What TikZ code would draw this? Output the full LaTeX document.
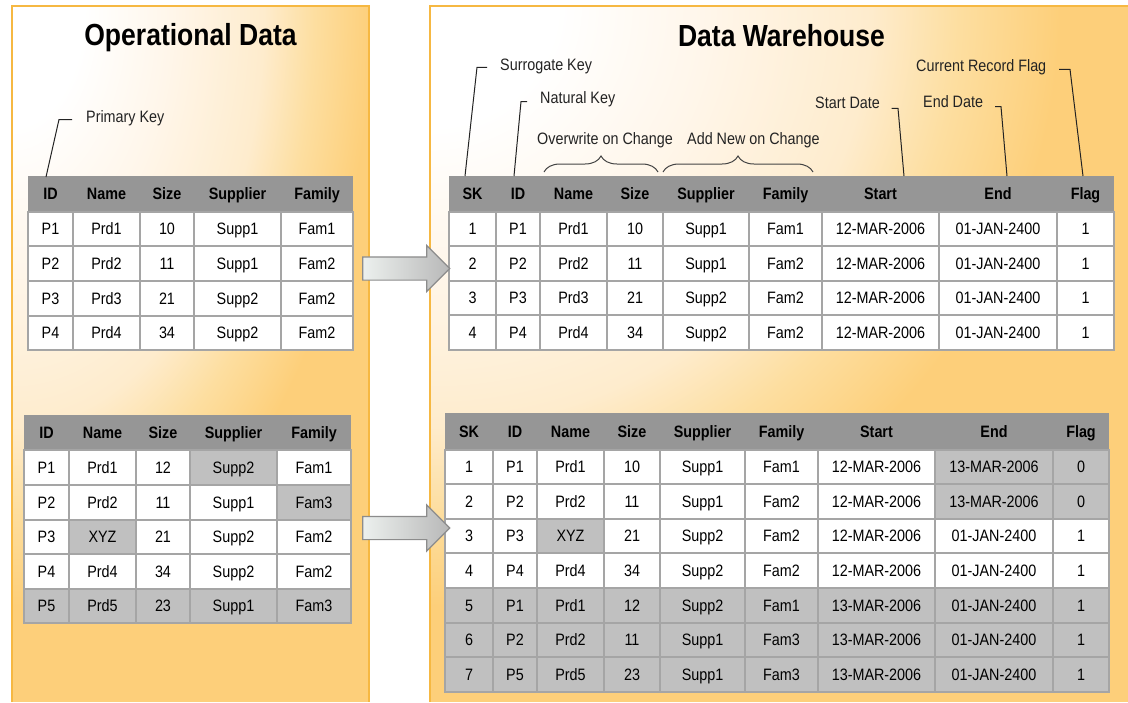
\documentclass[tikz,border=0pt]{standalone}
\usepackage{fontspec}
\setmainfont{Liberation Sans}[FakeStretch=0.87]
\usetikzlibrary{shapes.arrows,decorations.pathreplacing}

\definecolor{panelline}{RGB}{246,184,66}
\definecolor{panelorange}{RGB}{253,207,122}
\definecolor{hdrgray}{RGB}{150,150,150}
\definecolor{cellgray}{RGB}{192,192,192}
\definecolor{gridgray}{RGB}{165,165,165}
\definecolor{arrowlight}{RGB}{236,240,238}
\definecolor{arrowdark}{RGB}{184,184,184}
\definecolor{arrowline}{RGB}{140,140,140}
\definecolor{labeltext}{RGB}{35,35,35}

\pgfdeclareradialshading{glow}{\pgfpoint{0bp}{0bp}}{rgb(0bp)=(1,1,1); rgb(5bp)=(1,1,1); rgb(11bp)=(1,0.965,0.918); rgb(17.5bp)=(0.996,0.925,0.804); rgb(21bp)=(0.992,0.871,0.627); rgb(25bp)=(0.992,0.812,0.478); rgb(50bp)=(0.992,0.812,0.478)}

\newcommand\markgray[2]{\foreach \gcell in {#2}{\expandafter\xdef\csname gc:#1:\gcell\endcsname{1}}}
\newcommand\drawtable[4]{%
  \foreach \rowtxt [count=\rowi from 0] in {#4}{%
    \foreach \celltxt [count=\coli] in \rowtxt {%
      \pgfmathsetmacro\xa{{#2}[\coli-1]}%
      \pgfmathsetmacro\xb{{#2}[\coli]}%
      \pgfmathsetmacro\ya{{#3}[\rowi]}%
      \pgfmathsetmacro\yb{{#3}[\rowi+1]}%
      \ifnum\rowi=0\relax
        \path[fill=hdrgray] (\xa,\ya) rectangle (\xb,\yb);
        \node[hdrtext] (#1-\rowi-\coli) at ({(\xa+\xb)/2},{(\ya+\yb)/2}) {\celltxt};
      \else
        \ifcsname gc:#1:\rowi-\coli\endcsname\def\cellfill{cellgray}\else\def\cellfill{white}\fi
        \path[fill=\cellfill, draw=gridgray, line width=1.5pt] (\xa,\ya) rectangle (\xb,\yb);
        \node[celltext] (#1-\rowi-\coli) at ({(\xa+\xb)/2},{(\ya+\yb)/2}) {\celltxt};
      \fi
    }%
  }%
}

\begin{document}
\begin{tikzpicture}[x=1pt,y=-1pt,
  celltext/.style={inner sep=0pt, text height=11.8pt, text depth=0pt, font=\fontsize{16.5}{18}\selectfont},
  hdrtext/.style={inner sep=0pt, text height=11.8pt, text depth=0pt, font=\fontsize{16.5}{18}\selectfont\bfseries},
  lbl/.style={anchor=west, inner sep=0pt, text height=11.8pt, text depth=0pt, font=\fontsize{16.5}{18}\selectfont, text=labeltext},
  ttl/.style={inner sep=0pt, text height=21.8pt, text depth=0pt, font=\fontsize{30.5}{34}\selectfont\bfseries},
  leader/.style={draw=labeltext, line width=1pt},
  bracestyle/.style={draw=labeltext!85, line width=1pt, decorate, decoration={brace, amplitude=16pt, aspect=0.5}},
  bigarrow/.style={single arrow, single arrow head extend=11.5pt, inner sep=11pt, minimum height=87pt, left color=arrowlight, right color=arrowdark, draw=arrowline, line width=1.2pt},
  panelborder/.style={draw=panelline, line width=1.5pt}
]
\useasboundingbox (0,0) rectangle (1128,702);
\fill[white] (0,0) rectangle (1128,702);

% panels
\fill[panelorange] (12,6) rectangle (369,702);
\fill[panelorange] (430,6) rectangle (1128,702);
\begin{scope}
  \clip (12,6) rectangle (369,702);
  \shade[shading=glow] (12,6) ellipse (360 and 600);
\end{scope}
\begin{scope}
  \clip (430,6) rectangle (1128,702);
  \shade[shading=glow] (430,6) ellipse (630 and 600);
\end{scope}
\draw[panelborder] (12,702) -- (12,6) -- (369,6) -- (369,702);
\draw[panelborder] (430,702) -- (430,6) -- (1128,6);

% titles
\node[ttl] (tOD) at (190.5,34.5) {Operational Data};
\node[ttl] (tDW) at (781.5,35.5) {Data Warehouse};

% tables
\markgray{od2}{1-4,2-5,3-2,5-1,5-2,5-3,5-4,5-5}
\markgray{dw2}{1-8,1-9,2-8,2-9,3-3,5-1,5-2,5-3,5-4,5-5,5-6,5-7,5-8,5-9,6-1,6-2,6-3,6-4,6-5,6-6,6-7,6-8,6-9,7-1,7-2,7-3,7-4,7-5,7-6,7-7,7-8,7-9}

\drawtable{od1}{28,73,140,194,281,353}{176,212,246,281,316,350}{%
  {ID,Name,Size,Supplier,Family},
  {P1,Prd1,10,Supp1,Fam1},
  {P2,Prd2,11,Supp1,Fam2},
  {P3,Prd3,21,Supp2,Fam2},
  {P4,Prd4,34,Supp2,Fam2}}

\drawtable{od2}{24,69,136,190,277,351}{415,450,485,520,554,589,623}{%
  {ID,Name,Size,Supplier,Family},
  {P1,Prd1,12,Supp2,Fam1},
  {P2,Prd2,11,Supp1,Fam3},
  {P3,XYZ,21,Supp2,Fam2},
  {P4,Prd4,34,Supp2,Fam2},
  {P5,Prd5,23,Supp1,Fam3}}

\drawtable{dw1}{449,496,540,607,663,749,822,939,1057,1114}{176,212,246,281,315,350}{%
  {SK,ID,Name,Size,Supplier,Family,Start,End,Flag},
  {1,P1,Prd1,10,Supp1,Fam1,12-MAR-2006,01-JAN-2400,1},
  {2,P2,Prd2,11,Supp1,Fam2,12-MAR-2006,01-JAN-2400,1},
  {3,P3,Prd3,21,Supp2,Fam2,12-MAR-2006,01-JAN-2400,1},
  {4,P4,Prd4,34,Supp2,Fam2,12-MAR-2006,01-JAN-2400,1}}

\drawtable{dw2}{445,493,537,604,660,745,818,935,1053,1109}{413,450,484,519,553,588,623,657,692}{%
  {SK,ID,Name,Size,Supplier,Family,Start,End,Flag},
  {1,P1,Prd1,10,Supp1,Fam1,12-MAR-2006,13-MAR-2006,0},
  {2,P2,Prd2,11,Supp1,Fam2,12-MAR-2006,13-MAR-2006,0},
  {3,P3,XYZ,21,Supp2,Fam2,12-MAR-2006,01-JAN-2400,1},
  {4,P4,Prd4,34,Supp2,Fam2,12-MAR-2006,01-JAN-2400,1},
  {5,P1,Prd1,12,Supp2,Fam1,13-MAR-2006,01-JAN-2400,1},
  {6,P2,Prd2,11,Supp1,Fam3,13-MAR-2006,01-JAN-2400,1},
  {7,P5,Prd5,23,Supp1,Fam3,13-MAR-2006,01-JAN-2400,1}}

% labels
\node[lbl] (lPK) at (86,116.5) {Primary Key};
\node[lbl] (lSK) at (500,64.5) {Surrogate Key};
\node[lbl] (lNK) at (540,98) {Natural Key};
\node[lbl] (lOW) at (537,139) {Overwrite on Change};
\node[lbl] (lAN) at (687,139) {Add New on Change};
\node[lbl] (lSD) at (815,103) {Start Date};
\node[lbl] (lED) at (923,102) {End Date};
\node[lbl] (lCF) at (916,66) {Current Record Flag};

% leader lines
\coordinate (pkA) at (72,119.5);   \coordinate (pkB) at (59,119.5);   \coordinate (pkC) at (46,177);
\coordinate (skA) at (487,67.3);   \coordinate (skB) at (477,67.3);   \coordinate (skC) at (465,176);
\coordinate (nkA) at (527,101.7);  \coordinate (nkB) at (521,101.7);  \coordinate (nkC) at (514,176);
\coordinate (sdA) at (891.7,108.3);\coordinate (sdB) at (898,108.3);  \coordinate (sdC) at (904,176);
\coordinate (edA) at (995,106.7);  \coordinate (edB) at (1001,106.7); \coordinate (edC) at (1007,176);
\coordinate (cfA) at (1059,69.3);  \coordinate (cfB) at (1070,69.3);  \coordinate (cfC) at (1083,176);
\draw[leader] (pkA) -- (pkB) -- (pkC);
\draw[leader] (skA) -- (skB) -- (skC);
\draw[leader] (nkA) -- (nkB) -- (nkC);
\draw[leader] (sdA) -- (sdB) -- (sdC);
\draw[leader] (edA) -- (edB) -- (edC);
\draw[leader] (cfA) -- (cfB) -- (cfC);

% braces
\coordinate (owL) at (544,172); \coordinate (owR) at (658,172);
\coordinate (anL) at (663,172); \coordinate (anR) at (813,172);
\draw[bracestyle] (owL) -- (owR);
\draw[bracestyle] (anL) -- (anR);

% block arrows
\node[bigarrow] (arr1) at (400.5,268.5) {};
\node[bigarrow] (arr2) at (400.5,528) {};
\end{tikzpicture}
\end{document}
